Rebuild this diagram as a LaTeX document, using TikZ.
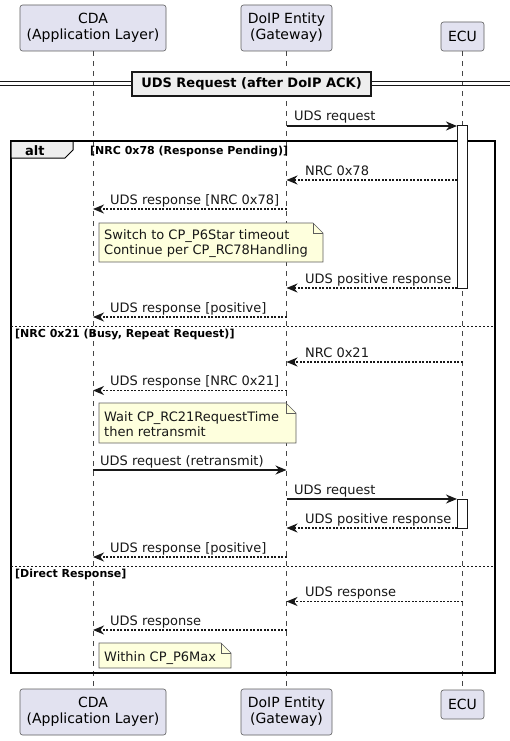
\documentclass[tikz,border=0pt]{standalone}
\usepackage{fontspec}
\setmainfont{DejaVu Sans}
\usetikzlibrary{arrows.meta}
\definecolor{pfill}{HTML}{E2E2F0}
\definecolor{pline}{HTML}{181818}
\definecolor{nfill}{HTML}{FEFFDD}
\definecolor{gfill}{HTML}{EEEEEE}
\tikzset{
  part/.style={draw=pline!70, line width=0.6pt, fill=pfill, rounded corners=2.5pt, align=center, font=\fontsize{14}{16}\selectfont, inner sep=0pt},
  lifeline/.style={draw=pline!80, line width=0.5pt, dash pattern=on 5pt off 5pt},
  syncmsg/.style={draw=pline, line width=1.3pt, -{Stealth[length=11pt,width=9pt,inset=3.5pt]}},
  replymsg/.style={syncmsg, dash pattern=on 2pt off 1.5pt},
  msg/.style={font=\fontsize{13}{15}\selectfont, anchor=base west, inner sep=0pt, text=pline},
  guard/.style={font=\fontsize{11}{13}\selectfont\bfseries, anchor=base west, inner sep=0pt},
  notebox/.style={draw=pline!70, line width=0.6pt, fill=nfill},
  actbar/.style={draw=pline, line width=1pt, fill=white},
  sepline/.style={draw=pline, line width=1pt, dash pattern=on 2pt off 2pt}
}
\newcommand\mynote[4]{%
  \draw[notebox] (#1,#2) -- (#3-10,#2) -- (#3,#2+10) -- (#3,#4) -- (#1,#4) -- cycle;
  \draw[notebox, fill=none] (#3-10,#2) -- (#3-10,#2+10) -- (#3,#2+10);}
\begin{document}
\begin{tikzpicture}[x=1pt,y=-1pt]
\useasboundingbox (0,0) rectangle (510,741);
% participants
\node[part, minimum width=146pt, minimum height=46pt] (cdaT) at (93,28) {CDA\\(Application Layer)};
\node[part, minimum width=91pt, minimum height=46pt] (doipT) at (286.5,28) {DoIP Entity\\(Gateway)};
\node[part, minimum width=43pt, minimum height=29pt] (ecuT) at (462.5,36.5) {ECU};
\node[part, minimum width=146pt, minimum height=46pt] (cdaB) at (93,712) {CDA\\(Application Layer)};
\node[part, minimum width=91pt, minimum height=46pt] (doipB) at (286.5,712) {DoIP Entity\\(Gateway)};
\node[part, minimum width=43pt, minimum height=29pt] (ecuB) at (462.5,704.5) {ECU};
% lifelines
\draw[lifeline] (cdaT.south) -- (cdaB.north);
\draw[lifeline] (doipT.south) -- (doipB.north);
\draw[lifeline] (ecuT.south) -- (ecuB.north);
% divider
\draw[pline, line width=1pt] (0,82) -- (510,82) (0,86) -- (510,86);
\node[draw=pline, line width=2pt, fill=gfill, minimum width=239pt, minimum height=24pt, inner sep=0pt, font=\fontsize{13}{15}\selectfont\bfseries] (div) at (251.5,84) {UDS Request (after DoIP ACK)};
% alt frame
\draw[black, line width=1.5pt] (11,141) rectangle (495,673);
\draw[black, line width=1pt, fill=gfill] (11,141) -- (73,141) -- (73,150) -- (65,158) -- (11,158) -- cycle;
\draw[black, line width=1.5pt] (11,141) -- (495,141);
\node[font=\fontsize{13}{15}\selectfont\bfseries, anchor=base west, inner sep=0pt] (altlbl) at (25,155) {alt};
\node[guard] (g1) at (90,154) {[NRC 0x78 (Response Pending)]};
\draw[sepline] (11,326) -- (495,326);
\node[guard] (g2) at (15,337) {[NRC 0x21 (Busy, Repeat Request)]};
\draw[sepline] (11,566) -- (495,566);
\node[guard] (g3) at (15,577) {[Direct Response]};
% activation bars
\node[actbar, minimum width=10pt, minimum height=162pt, inner sep=0pt] (bar1) at (462,207) {};
\node[actbar, minimum width=10pt, minimum height=29pt, inner sep=0pt] (bar2) at (462,513.5) {};
% coordinates
\coordinate (d126) at (286.5,126); \coordinate (e126) at (457,126);
\coordinate (e180) at (457,180); \coordinate (d180) at (286.5,180);
\coordinate (d209) at (286.5,209); \coordinate (c209) at (93,209);
\coordinate (e288) at (457,288); \coordinate (d288) at (286.5,288);
\coordinate (d317) at (286.5,317); \coordinate (c317) at (93,317);
\coordinate (e362) at (462.5,362); \coordinate (d362) at (286.5,362);
\coordinate (d390) at (286.5,390.5); \coordinate (c390) at (93,390.5);
\coordinate (c470) at (93,470); \coordinate (d470) at (286.5,470);
\coordinate (d499) at (286.5,499); \coordinate (e499) at (457,499);
\coordinate (e528) at (457,528); \coordinate (d528) at (286.5,528);
\coordinate (d557) at (286.5,557); \coordinate (c557) at (93,557);
\coordinate (e601) at (462.5,601.5); \coordinate (d601) at (286.5,601.5);
\coordinate (d630) at (286.5,630); \coordinate (c630) at (93,630);
% messages
\draw[syncmsg] (d126) -- (e126); \node[msg] (t1) at (294,121) {UDS request};
\draw[replymsg] (e180) -- (d180); \node[msg] (t2) at (305,175) {NRC 0x78};
\draw[replymsg] (d209) -- (c209); \node[msg] (t3) at (110,204) {UDS response [NRC 0x78]};
\mynote{99}{223}{323}{262}
\node[msg] (n1a) at (104,239) {Switch to CP\_P6Star timeout};
\node[msg] (n1b) at (104,254) {Continue per CP\_RC78Handling};
\draw[replymsg] (e288) -- (d288); \node[msg] (t4) at (305,283) {UDS positive response};
\draw[replymsg] (d317) -- (c317); \node[msg] (t5) at (110,312) {UDS response [positive]};
\draw[replymsg] (e362) -- (d362); \node[msg] (t6) at (305,357) {NRC 0x21};
\draw[replymsg] (d390) -- (c390); \node[msg] (t7) at (110,385.5) {UDS response [NRC 0x21]};
\mynote{99}{403}{296}{443}
\node[msg] (n2a) at (104,421) {Wait CP\_RC21RequestTime};
\node[msg] (n2b) at (104,436) {then retransmit};
\draw[syncmsg] (c470) -- (d470); \node[msg] (t8) at (100,465) {UDS request (retransmit)};
\draw[syncmsg] (d499) -- (e499); \node[msg] (t9) at (294,494) {UDS request};
\draw[replymsg] (e528) -- (d528); \node[msg] (t10) at (305,523) {UDS positive response};
\draw[replymsg] (d557) -- (c557); \node[msg] (t11) at (110,552) {UDS response [positive]};
\draw[replymsg] (e601) -- (d601); \node[msg] (t12) at (305,596.5) {UDS response};
\draw[replymsg] (d630) -- (c630); \node[msg] (t13) at (110,625) {UDS response};
\mynote{99}{643}{231}{668}
\node[msg] (n3a) at (104,661) {Within CP\_P6Max};
\end{tikzpicture}
\end{document}
